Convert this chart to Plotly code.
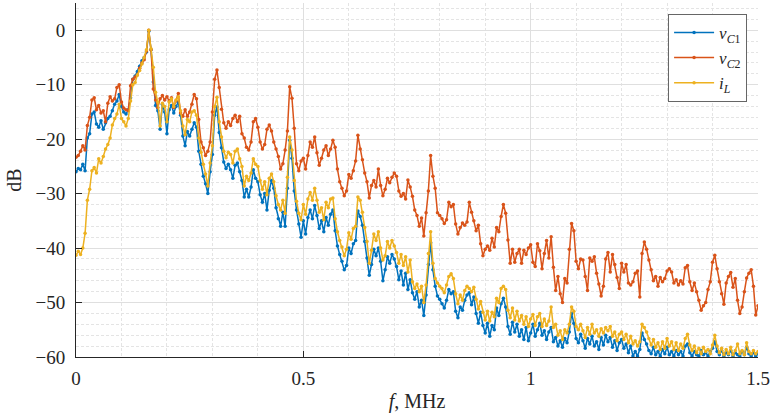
import plotly.graph_objects as go

F_STEP = 0.005  # MHz, sampling grid of the spectrum

# dB values, one row per 0.1 MHz (20 samples per row), last sample at 1.5 MHz
v_c1 = [
    -26.0, -25.4, -25.6, -24.6, -25.8, -19.8, -19.0, -15.4, -15.0, -17.2, -17.8, -16.6, -18.2, -17.0, -16.2, -15.8, -14.8, -13.6, -13.0, -11.8,
    -14.0, -15.0, -15.4, -14.6, -12.4, -9.0, -8.4, -7.6, -6.6, -5.6, -5.0, -4.0, -0.2, -3.6, -9.5, -13.8, -14.8, -18.2, -13.6, -15.0,
    -19.0, -14.6, -13.8, -15.2, -14.0, -13.2, -15.6, -19.4, -21.2, -18.6, -19.4, -18.2, -17.0, -17.8, -22.2, -24.6, -26.8, -28.2, -30.0, -26.0,
    -22.8, -15.6, -14.1, -18.8, -21.6, -24.2, -25.4, -24.6, -25.6, -27.2, -24.8, -24.4, -26.0, -27.6, -30.6, -29.2, -30.6, -28.8, -25.6, -27.2,
    -27.8, -30.2, -31.6, -30.0, -33.0, -29.4, -27.6, -29.0, -32.6, -34.6, -36.0, -33.4, -36.0, -29.0, -20.2, -23.5, -29.5, -33.0, -35.6, -38.0,
    -35.0, -37.4, -34.4, -33.0, -34.6, -32.2, -34.0, -36.4, -35.0, -37.0, -34.4, -35.8, -33.8, -33.0, -36.8, -39.6, -41.2, -42.4, -44.0, -43.2,
    -40.0, -41.0, -39.2, -38.6, -33.2, -34.2, -35.8, -38.8, -41.8, -45.0, -43.0, -40.2, -41.4, -40.0, -42.4, -46.0, -44.0, -41.6, -42.8, -41.2,
    -42.0, -43.4, -45.8, -44.2, -46.8, -44.6, -47.6, -45.8, -48.2, -49.4, -48.0, -50.8, -49.6, -52.4, -48.6, -43.0, -39.0, -44.0, -47.0, -48.8,
    -49.4, -50.2, -51.0, -49.6, -47.6, -48.4, -48.0, -51.6, -52.8, -50.8, -51.4, -49.6, -48.6, -48.2, -50.4, -49.0, -52.0, -53.8, -51.8, -54.2,
    -55.6, -53.8, -56.2, -54.2, -55.0, -51.0, -52.4, -50.2, -49.2, -50.8, -54.4, -55.8, -53.6, -55.4, -54.0, -56.2, -55.0, -56.8, -54.6, -57.0,
    -55.6, -54.0, -56.2, -55.0, -53.8, -56.0, -55.2, -56.8, -55.4, -54.6, -57.2, -56.4, -58.0, -57.0, -58.2, -56.6, -57.4, -55.4, -52.0, -53.8,
    -56.6, -57.4, -55.8, -57.0, -58.4, -56.6, -57.6, -56.2, -58.0, -57.2, -58.6, -56.4, -57.8, -56.0, -57.2, -56.4, -58.2, -57.0, -58.8, -57.4,
    -56.8, -58.4, -57.6, -59.2, -58.0, -59.8, -59.0, -59.8, -58.6, -55.6, -56.8, -57.6, -58.8, -59.4, -58.2, -59.6, -59.0, -59.8, -58.6, -59.4,
    -58.2, -59.6, -59.0, -59.8, -58.8, -59.6, -59.0, -59.8, -58.0, -57.6, -59.2, -59.8, -59.0, -59.6, -59.8, -58.8, -59.6, -59.2, -59.8, -59.0,
    -58.4, -57.2, -59.0, -59.6, -58.8, -59.8, -59.2, -59.6, -58.8, -59.8, -59.2, -59.6, -59.8, -59.0, -59.6, -58.2, -59.4, -59.8, -59.2, -59.8,
    -59.4,
]

v_c2 = [
    -23.3, -23.0, -22.2, -21.2, -22.0, -17.5, -16.0, -12.8, -12.4, -14.6, -13.8, -15.2, -14.8, -16.8, -13.4, -12.2, -13.0, -12.6, -10.5, -10.0,
    -13.2, -14.3, -14.6, -14.8, -10.2, -9.0, -8.6, -8.2, -7.0, -6.0, -5.4, -3.8, 0.0, -3.6, -10.8, -12.8, -14.2, -12.6, -12.0, -12.8,
    -12.2, -13.0, -12.4, -14.2, -13.0, -11.6, -15.2, -15.8, -14.6, -15.8, -15.0, -13.6, -11.8, -12.6, -16.4, -20.5, -21.6, -23.0, -22.2, -20.5,
    -15.0, -9.0, -7.3, -10.5, -14.5, -17.0, -18.0, -16.8, -17.5, -16.2, -15.6, -16.8, -15.8, -19.0, -19.8, -21.5, -22.0, -20.5, -16.8, -16.2,
    -17.8, -20.5, -21.8, -21.0, -18.2, -17.4, -18.5, -20.5, -21.8, -23.2, -25.5, -24.5, -22.0, -18.5, -10.4, -12.5, -18.0, -24.5, -25.8, -24.0,
    -23.5, -25.5, -23.0, -20.5, -21.5, -19.6, -22.5, -24.8, -23.5, -22.0, -21.2, -23.0, -21.8, -20.2, -21.5, -25.5, -27.8, -29.0, -30.4, -29.5,
    -26.5, -27.2, -25.8, -24.0, -19.3, -21.8, -23.8, -26.2, -27.8, -30.8, -28.5, -27.6, -28.8, -25.5, -28.5, -30.4, -29.2, -27.2, -28.0, -27.0,
    -26.2, -26.8, -29.5, -30.5, -30.0, -31.0, -27.5, -28.8, -30.5, -33.0, -34.0, -36.0, -34.5, -37.8, -33.5, -29.5, -23.0, -26.8, -29.0, -33.5,
    -34.0, -34.6, -35.5, -34.8, -31.6, -32.4, -32.0, -35.6, -37.4, -36.2, -35.4, -35.8, -35.2, -31.6, -33.4, -35.0, -36.8, -35.8, -39.2, -41.4,
    -40.2, -39.6, -40.4, -38.2, -39.8, -36.2, -37.0, -34.2, -32.0, -33.6, -38.5, -42.8, -40.2, -42.6, -41.0, -40.2, -42.8, -40.4, -41.2, -40.0,
    -39.4, -42.6, -43.4, -39.2, -40.5, -43.8, -41.0, -38.6, -41.8, -37.9, -43.5, -47.8, -45.2, -48.4, -50.0, -45.6, -46.4, -40.2, -35.5, -36.8,
    -42.4, -43.8, -42.0, -42.2, -45.2, -47.8, -41.8, -42.4, -41.6, -44.6, -46.6, -48.8, -47.0, -42.0, -40.8, -44.4, -41.2, -43.0, -45.4, -47.4,
    -42.8, -44.4, -43.0, -46.4, -46.8, -46.2, -44.6, -44.2, -49.0, -41.0, -38.9, -40.2, -42.2, -44.0, -46.0, -45.2, -47.0, -45.4, -46.2, -45.6,
    -44.2, -43.8, -44.4, -46.4, -45.8, -46.8, -46.0, -46.6, -43.6, -43.2, -46.2, -47.8, -46.4, -48.0, -49.6, -51.4, -50.6, -50.0, -47.6, -46.2,
    -42.6, -41.3, -43.8, -46.2, -48.4, -50.3, -46.4, -45.2, -44.5, -47.2, -45.6, -49.6, -52.0, -50.8, -48.0, -45.5, -44.6, -44.0, -47.0, -52.3,
    -50.6,
]

i_l = [
    -41.3, -40.6, -41.2, -40.0, -37.3, -31.2, -29.2, -25.8, -25.2, -26.2, -23.6, -24.4, -23.2, -21.8, -21.0, -19.8, -17.4, -16.2, -15.4, -13.6,
    -16.2, -16.8, -17.6, -16.2, -13.0, -10.0, -9.6, -8.2, -7.4, -6.2, -5.0, -3.6, 0.0, -3.4, -6.8, -11.4, -13.2, -17.6, -13.4, -14.0,
    -16.8, -13.2, -12.6, -14.0, -12.8, -12.2, -14.8, -17.6, -19.2, -16.4, -16.8, -15.0, -14.8, -15.6, -19.8, -22.4, -24.6, -26.4, -28.6, -24.4,
    -21.2, -14.0, -12.3, -16.8, -19.6, -22.2, -23.4, -22.4, -22.8, -24.4, -22.2, -21.8, -23.6, -25.0, -28.6, -26.8, -27.6, -26.2, -23.6, -24.6,
    -25.0, -27.6, -29.2, -27.8, -30.2, -27.2, -26.4, -27.8, -30.4, -32.0, -33.0, -31.2, -33.6, -27.0, -19.6, -22.0, -27.6, -31.4, -33.6, -34.8,
    -32.0, -33.8, -31.0, -29.8, -31.2, -29.0, -31.2, -33.4, -32.6, -34.8, -31.6, -32.6, -31.0, -30.8, -34.6, -37.0, -38.6, -39.8, -41.4, -40.2,
    -37.2, -38.4, -36.4, -36.0, -30.6, -31.2, -33.4, -36.2, -38.8, -42.8, -40.4, -37.4, -38.6, -37.0, -40.0, -42.2, -41.4, -38.8, -40.0, -38.6,
    -39.6, -40.8, -42.8, -41.2, -43.2, -41.6, -44.4, -42.2, -46.2, -47.4, -46.6, -48.0, -47.0, -50.0, -46.8, -41.0, -37.0, -42.8, -45.6, -46.4,
    -47.0, -47.4, -48.2, -46.8, -45.2, -44.7, -45.6, -48.4, -50.2, -48.6, -49.6, -47.8, -47.0, -47.4, -48.0, -47.2, -49.4, -51.2, -49.8, -51.8,
    -53.2, -51.6, -53.4, -51.8, -52.6, -49.2, -50.0, -47.4, -47.0, -47.6, -51.4, -52.8, -51.0, -53.2, -51.6, -53.4, -52.4, -54.0, -52.6, -54.4,
    -53.0, -52.2, -54.2, -52.6, -52.0, -54.4, -53.0, -54.2, -53.4, -50.8, -54.6, -54.0, -56.0, -55.2, -56.8, -55.0, -55.6, -54.0, -50.8, -51.6,
    -54.4, -55.0, -54.0, -55.2, -56.4, -54.6, -55.8, -54.0, -55.6, -55.0, -56.2, -54.8, -55.6, -54.6, -55.2, -54.4, -56.2, -55.4, -57.0, -55.8,
    -55.4, -56.8, -55.8, -57.4, -56.2, -57.6, -57.0, -58.0, -57.2, -54.0, -54.6, -55.4, -56.6, -57.8, -56.8, -58.2, -57.4, -58.6, -57.2, -58.4,
    -56.6, -58.0, -57.2, -58.6, -57.4, -58.8, -57.6, -58.4, -56.6, -55.8, -57.8, -58.8, -58.0, -59.2, -58.4, -59.4, -58.2, -59.0, -58.6, -59.4,
    -57.8, -56.0, -58.0, -59.2, -58.4, -59.6, -58.6, -59.4, -58.2, -59.6, -58.8, -57.6, -59.4, -58.8, -59.6, -57.4, -59.0, -59.4, -58.8, -59.4,
    -59.0,
]

series_names = ["<i>v</i><sub><i>C</i>1</sub>", "<i>v</i><sub><i>C</i>2</sub>", "<i>i</i><sub><i>L</i></sub>"]
series_colors = ["#0072BD", "#D95319", "#EDB120"]
x_tick_vals = [0, 0.5, 1, 1.5]
x_tick_text = ["0", "0.5", "1", "1.5"]
y_tick_vals = [-60, -50, -40, -30, -20, -10, 0]

SERIF = "Liberation Serif"
TXT = "#262626"

fig = go.Figure()
for name, color, vals in zip(series_names, series_colors, [v_c1, v_c2, i_l]):
    freq = [round(i * F_STEP, 4) for i in range(len(vals))]
    fig.add_trace(go.Scatter(
        x=freq, y=vals, name=name, mode="lines+markers",
        line=dict(color=color, width=1.5),
        marker=dict(color=color, size=3.5, symbol="circle"),
    ))

axis_common = dict(
    showline=True, linecolor=TXT, linewidth=1,
    ticks="inside", ticklen=6, tickcolor=TXT, tickwidth=1,
    showgrid=True, gridcolor="#dfdfdf", gridwidth=1,
    zeroline=False, mirror=False,
    tickfont=dict(family=SERIF, size=19, color=TXT),
)

minor_common = dict(showgrid=True, gridcolor="#e4e4e4", griddash="3px,2px", gridwidth=1, ticks="")

fig.update_layout(
    width=774, height=417,
    margin=dict(l=76, r=16, t=3, b=60),
    paper_bgcolor="white", plot_bgcolor="white",
    showlegend=True,
    legend=dict(
        x=0.984, y=0.969, xanchor="right", yanchor="top",
        bgcolor="white", bordercolor="#666666", borderwidth=1,
        font=dict(family=SERIF, size=17, color=TXT),
        tracegroupgap=0, itemwidth=40,
    ),
    xaxis=dict(
        range=[0, 1.5], tickvals=x_tick_vals, ticktext=x_tick_text,
        title=dict(text="<i>f</i>, MHz", font=dict(family=SERIF, size=20, color=TXT), standoff=6),
        minor=dict(dtick=0.1, tick0=0, **minor_common),
        ticklabelstandoff=4,
        **axis_common,
    ),
    yaxis=dict(
        range=[-60, 5], tickvals=y_tick_vals,
        title=dict(text="dB", font=dict(family=SERIF, size=20, color=TXT), standoff=8),
        minor=dict(dtick=2, tick0=0, **minor_common),
        ticklabelstandoff=6,
        **axis_common,
    ),
)

fig.write_html("out.html")
